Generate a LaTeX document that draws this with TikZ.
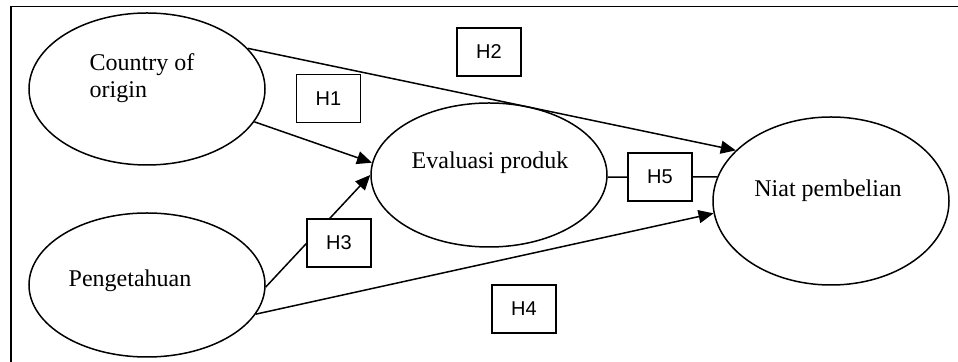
\documentclass[tikz,border=0pt]{standalone}
\usepackage{fontspec}
\setmainfont{Liberation Serif}
\newfontfamily\arialfont{Liberation Sans}
\usetikzlibrary{shapes.geometric,arrows.meta}

\tikzset{
	var/.style={draw, ellipse, line width=0.75pt, inner sep=0pt, minimum width=118pt},
	vartext/.style={font=\fontsize{12}{13.5}\selectfont, align=left, inner sep=0pt},
	hyp/.style={draw, fill=white, line width=0.75pt, inner sep=0pt, minimum width=32pt, minimum height=24pt, font=\arialfont\fontsize{10}{12}\selectfont},
	path/.style={line width=0.75pt, -{Triangle[length=7.5pt,width=6.5pt]}}
}

\begin{document}
\begin{tikzpicture}[x=0.5pt, y=-0.5pt]
				\useasboundingbox (0,0) rectangle (958,362);
				\draw[line width=0.8pt] (11,362) -- (11,6.5) -- (958,6.5);
				
				\node[var, minimum height=76pt] (coo) at (147,89) {};
				\node[var, minimum height=72pt] (know) at (147,285) {};
				\node[var, minimum height=72pt] (eval) at (489,175) {};
				\node[var, minimum height=84pt] (intent) at (831,201) {};
				
				\node[vartext] (coo-t) at (142,78) {Country of\\origin};
				\node[vartext] (know-t) at (130,281) {Pengetahuan};
				\node[vartext] (eval-t) at (490,163) {Evaluasi produk};
				\node[vartext] (intent-t) at (828,191) {Niat pembelian};
				
				\draw[path] (coo.22) -- (intent.152);
				\draw[path] (coo.-17) -- (eval.174);
				\draw[path] (know.-1) -- (eval.180);
				\draw[path] (know.-15.5) -- (intent.186);
				\draw[line width=0.75pt] (eval.-1) -- (intent.168);
				
				\node[hyp] (h1) at (328.5,98.5) {H1};
				\node[hyp] (h2) at (489,52) {H2};
				\node[hyp] (h3) at (339,243) {H3};
				\node[hyp] (h4) at (524,309) {H4};
				\node[hyp] (h5) at (660,177) {H5};
\end{tikzpicture}
\end{document}
